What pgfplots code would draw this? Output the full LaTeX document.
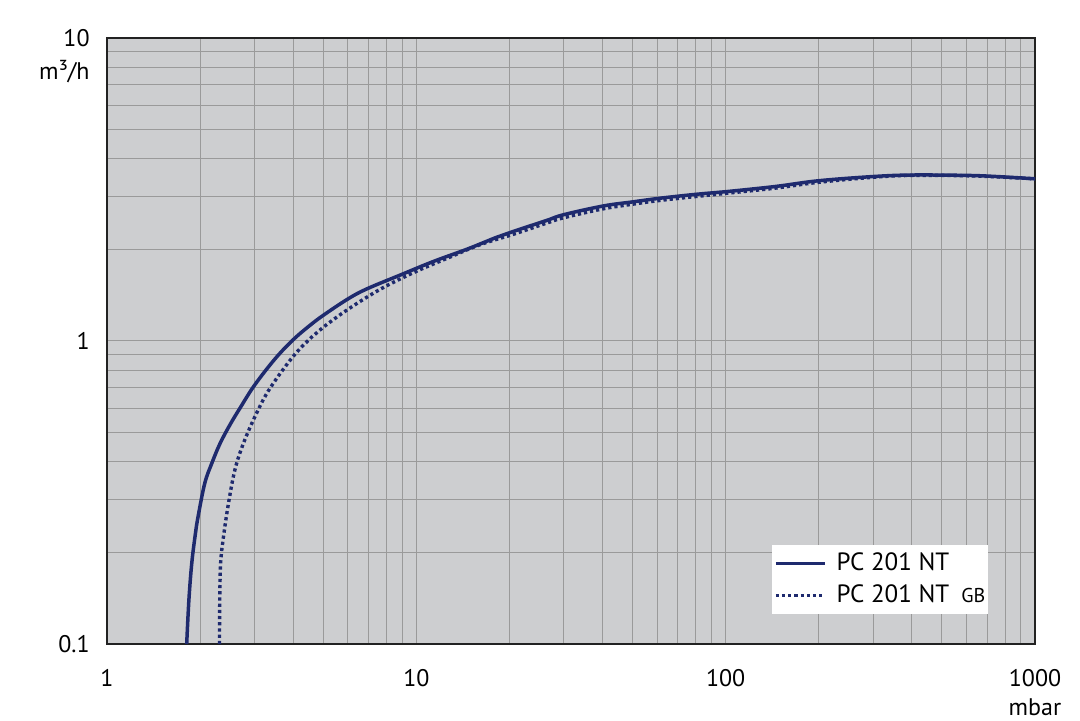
\documentclass[border=0pt]{standalone}
\usepackage{pgfplots}
\pgfplotsset{compat=1.18}
\usetikzlibrary{calc}
\usepackage{fontspec}
\setmainfont{PT Sans}
\definecolor{navy}{HTML}{1E2A6E}
\definecolor{bg}{HTML}{CDCED0}
\definecolor{gridc}{HTML}{9A9A9A}
\definecolor{framec}{HTML}{222222}
\begin{document}
\begin{tikzpicture}
\begin{axis}[
  xmode=log, ymode=log,
  xmin=1, xmax=1000, ymin=0.1, ymax=10,
  width=464pt, height=303pt, scale only axis,
  axis background/.style={fill=bg},
  axis line style={framec, line width=1pt},
  grid=both,
  major grid style={gridc, line width=0.5pt},
  minor grid style={gridc, line width=0.5pt},
  major tick length=0pt, minor tick length=0pt,
  xtick={1,10,100,1000},
  xticklabels={1,10,100,1000},
  ytick={0.1,1,10},
  yticklabels={0.1,1,10},
  tick label style={font=\fontsize{12}{14}\selectfont},
  /pgf/number format/assume math mode=true,
  xticklabel style={anchor=north, inner sep=0pt, yshift=-12.5pt},
  yticklabel style={anchor=east, inner sep=0pt, xshift=-8.5pt},
  legend style={draw=none, fill=white, at={(0.950,0.0495)}, anchor=south east,
    font=\fontsize{12.5}{14}\selectfont, inner xsep=1pt, inner ysep=2pt,
    row sep=1.5pt, nodes={inner xsep=0.5pt}},
  legend cell align=left,
  legend image code/.code={\draw[#1] (0pt,0pt) -- (24.5pt,0pt); \path (29pt,0pt);},
  clip=true,
]
\addplot[navy, line width=1.75pt, smooth, tension=0.6] coordinates {
(1.81,0.1) (1.84,0.14) (1.88,0.185) (1.93,0.23) (1.97,0.263) (2.07,0.339)
(2.18,0.394) (2.32,0.459) (2.5,0.53) (2.69,0.60) (3,0.715) (3.5,0.875)
(4,1.01) (4.5,1.12) (5,1.215) (6,1.375) (6.91,1.485) (8.86,1.65)
(11.35,1.83) (14.6,2.01) (18.2,2.20) (20.6,2.30) (26.4,2.50) (29.9,2.61)
(40.2,2.79) (50.3,2.88) (61.4,2.96) (80.6,3.05) (100,3.11) (127.6,3.19)
(150,3.25) (200,3.38) (300,3.49) (400,3.53) (600,3.52) (750,3.49) (1000,3.43)
};
\addlegendentry{PC 201 NT}
\addplot[navy, line width=1.7pt, dash pattern=on 1.6pt off 1.5pt, smooth, tension=0.6] coordinates {
(2.31,0.1) (2.315,0.14) (2.33,0.185) (2.38,0.226) (2.47,0.291) (2.59,0.375)
(2.76,0.459) (3.05,0.58) (3.37,0.70) (4.0,0.89) (4.59,1.03) (5,1.11) (6,1.27)
(7.63,1.48) (9.78,1.68) (12.5,1.87) (16.1,2.08) (20.6,2.25) (26.4,2.45)
(29.9,2.55) (40.2,2.73) (50.3,2.83) (61.4,2.91) (80.6,3.00) (100,3.07)
(127.6,3.15) (150,3.21) (200,3.34) (300,3.47) (400,3.52) (600,3.51)
(750,3.48) (1000,3.43)
};
\addlegendentry{PC 201 NT\hspace{6pt}{\fontsize{10}{12}\selectfont GB}}
\end{axis}
\node[anchor=base east, inner sep=0pt, font=\fontsize{12}{14}\selectfont]
  at ($(current axis.north west)+(-8.5pt,-21pt)$) {m³/h};
\node[anchor=base, inner sep=0pt, font=\fontsize{12}{14}\selectfont]
  at ($(current axis.south east)+(0pt,-36pt)$) {mbar};
\pgfresetboundingbox
\path[use as bounding box] ($(current axis.south west)+(-53.5pt,-38.5pt)$) rectangle ($(current axis.north east)+(22.5pt,19pt)$);
\end{tikzpicture}
\end{document}
